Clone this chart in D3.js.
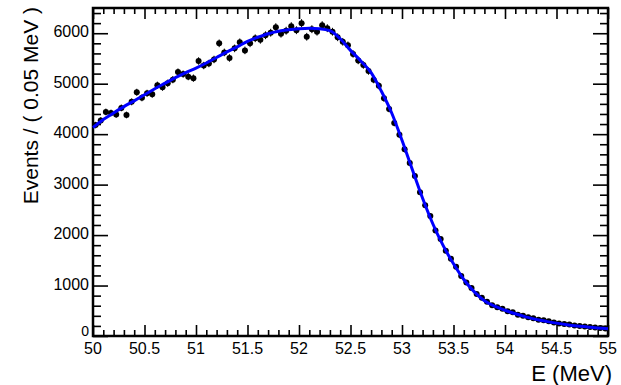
<!DOCTYPE html>
<html>
<head>
<meta charset="utf-8">
<script src="https://cdn.jsdelivr.net/npm/d3@7"></script>
<style>
  html, body { margin: 0; padding: 0; background: #fff; }
  svg { display: block; font-family: "Liberation Sans", Arial, Helvetica, sans-serif; }
</style>
</head>
<body>
<svg id="chart" width="621" height="385"></svg>
<script>
// Binned energy spectrum: bin centres (MeV) and event counts per 0.05 MeV
const binCenters = [
  50.025, 50.075, 50.125, 50.175, 50.225, 50.275, 50.325, 50.375, 50.425, 50.475,
  50.525, 50.575, 50.625, 50.675, 50.725, 50.775, 50.825, 50.875, 50.925, 50.975,
  51.025, 51.075, 51.125, 51.175, 51.225, 51.275, 51.325, 51.375, 51.425, 51.475,
  51.525, 51.575, 51.625, 51.675, 51.725, 51.775, 51.825, 51.875, 51.925, 51.975,
  52.025, 52.075, 52.125, 52.175, 52.225, 52.275, 52.325, 52.375, 52.425, 52.475,
  52.525, 52.575, 52.625, 52.675, 52.725, 52.775, 52.825, 52.875, 52.925, 52.975,
  53.025, 53.075, 53.125, 53.175, 53.225, 53.275, 53.325, 53.375, 53.425, 53.475,
  53.525, 53.575, 53.625, 53.675, 53.725, 53.775, 53.825, 53.875, 53.925, 53.975,
  54.025, 54.075, 54.125, 54.175, 54.225, 54.275, 54.325, 54.375, 54.425, 54.475,
  54.525, 54.575, 54.625, 54.675, 54.725, 54.775, 54.825, 54.875, 54.925, 54.975
];
const binCounts = [
  4180, 4270, 4440, 4420, 4390, 4520, 4380, 4640, 4830, 4720,
  4810, 4790, 4970, 4930, 5010, 5080, 5230, 5190, 5140, 5110,
  5450, 5360, 5400, 5480, 5800, 5620, 5510, 5700, 5820, 5660,
  5800, 5900, 5870, 5960, 6010, 6120, 5990, 6050, 6140, 6060,
  6200, 5930, 6080, 6030, 6160, 6100, 6030, 5920, 5830, 5760,
  5590, 5460, 5370, 5250, 5080, 4960, 4710, 4500, 4220, 3990,
  3700, 3430, 3170, 2850, 2590, 2380, 2090, 1920, 1690, 1530,
  1370, 1190, 1060, 950, 830, 760, 680, 610, 570, 540,
  490, 470, 420, 400, 370, 350, 320, 310, 290, 270,
  250, 240, 230, 210, 200, 190, 180, 170, 160, 150
];

// Fitted model evaluated on a 0.1 MeV grid
const fitE = [
  50.0, 50.1, 50.2, 50.3, 50.4, 50.5, 50.6, 50.7, 50.8, 50.9,
  51.0, 51.1, 51.2, 51.3, 51.4, 51.5, 51.6, 51.7, 51.8, 51.9,
  52.0, 52.1, 52.2, 52.3, 52.4, 52.5, 52.6, 52.7, 52.8, 52.9,
  53.0, 53.1, 53.2, 53.3, 53.4, 53.5, 53.6, 53.7, 53.8, 53.9,
  54.0, 54.1, 54.2, 54.3, 54.4, 54.5, 54.6, 54.7, 54.8, 54.9, 55.0
];
const fitValues = [
  4130, 4290, 4420, 4545, 4660, 4780, 4900, 5010, 5120, 5220,
  5310, 5410, 5520, 5630, 5730, 5840, 5920, 5990, 6040, 6070,
  6090, 6100, 6090, 6050, 5890, 5660, 5450, 5220, 4850, 4420,
  3880, 3300, 2730, 2220, 1790, 1430, 1120, 880, 700, 590,
  510, 440, 380, 330, 290, 255, 225, 200, 180, 160, 145
];

const xMajorTicks = [50, 50.5, 51, 51.5, 52, 52.5, 53, 53.5, 54, 54.5, 55];
const xTickLabels = ["50", "50.5", "51", "51.5", "52", "52.5", "53", "53.5", "54", "54.5", "55"];
const yMajorTicks = [0, 1000, 2000, 3000, 4000, 5000, 6000];
const yTickLabels = ["0", "1000", "2000", "3000", "4000", "5000", "6000"];
const xTitle = "E (MeV)";
const yTitle = "Events / ( 0.05 MeV )";

const frame = { left: 93, right: 608, top: 8, bottom: 336 };
const svg = d3.select("#chart");

const x = d3.scaleLinear().domain([50, 55]).range([frame.left, frame.right]);
const y = d3.scaleLinear().domain([0, 6500]).range([frame.bottom, frame.top]);

const xMinor = d3.range(0, 51).map(i => 50 + i * 0.1).filter(v => !xMajorTicks.some(t => Math.abs(t - v) < 1e-6));
const yMinor = d3.range(0, 33).map(i => i * 200).filter(v => v % 1000 !== 0);

// Axes with inward ticks on all four sides
const xMajorLen = 11, xMinorLen = 6, yMajorLen = 15, yMinorLen = 8;

function drawAxis(gen, transform, major, minor, majorLen, minorLen) {
  const g = svg.append("g").attr("transform", transform);
  g.call(gen.tickValues(minor).tickSize(minorLen).tickFormat(""));
  const g2 = svg.append("g").attr("transform", transform);
  g2.call(gen.tickValues(major).tickSize(majorLen).tickFormat(""));
  [g, g2].forEach(a => {
    a.select(".domain").remove();
    a.selectAll("line").attr("stroke", "#000").attr("stroke-width", 1.6);
  });
}
drawAxis(d3.axisTop(x), `translate(0,${frame.bottom})`, xMajorTicks, xMinor, xMajorLen, xMinorLen);
drawAxis(d3.axisBottom(x), `translate(0,${frame.top})`, xMajorTicks, xMinor, xMajorLen, xMinorLen);
drawAxis(d3.axisRight(y), `translate(${frame.left},0)`, yMajorTicks, yMinor, yMajorLen, yMinorLen);
drawAxis(d3.axisLeft(y), `translate(${frame.right},0)`, yMajorTicks, yMinor, yMajorLen, yMinorLen);

// Frame
svg.append("rect")
  .attr("x", frame.left).attr("y", frame.top)
  .attr("width", frame.right - frame.left).attr("height", frame.bottom - frame.top)
  .attr("fill", "none").attr("stroke", "#000").attr("stroke-width", 2.5);

// Tick labels
svg.append("g").selectAll("text").data(xMajorTicks).join("text")
  .attr("x", d => x(d)).attr("y", 354)
  .attr("text-anchor", "middle").attr("font-size", 16).attr("fill", "#000")
  .text((d, i) => xTickLabels[i]);
svg.append("g").selectAll("text").data(yMajorTicks).join("text")
  .attr("x", 89).attr("y", d => d === 0 ? y(d) : y(d) + 4)
  .attr("text-anchor", "end").attr("font-size", d => d === 0 ? 14 : 16).attr("fill", "#000")
  .text((d, i) => yTickLabels[i]);

// Axis titles
svg.append("text").attr("x", 612).attr("y", 381)
  .attr("text-anchor", "end").attr("font-size", 22).attr("fill", "#000").text(xTitle);
svg.append("text").attr("transform", "translate(38,7) rotate(-90)")
  .attr("text-anchor", "end").attr("font-size", 21).attr("fill", "#000").text(yTitle);

// Data points with Poisson error bars
const pts = binCenters.map((e, i) => ({ e, n: binCounts[i] }));
const gp = svg.append("g");
gp.selectAll("line.ey").data(pts).join("line").attr("class", "ey")
  .attr("x1", d => x(d.e)).attr("x2", d => x(d.e))
  .attr("y1", d => y(d.n - Math.sqrt(d.n))).attr("y2", d => y(d.n + Math.sqrt(d.n)))
  .attr("stroke", "#000").attr("stroke-width", 1);
gp.selectAll("line.ex").data(pts).join("line").attr("class", "ex")
  .attr("x1", d => x(d.e - 0.025)).attr("x2", d => x(d.e + 0.025))
  .attr("y1", d => y(d.n)).attr("y2", d => y(d.n))
  .attr("stroke", "#000").attr("stroke-width", 1);
gp.selectAll("circle").data(pts).join("circle")
  .attr("cx", d => x(d.e)).attr("cy", d => y(d.n)).attr("r", 3)
  .attr("fill", "#000");

// Fit curve
const fitPts = fitE.map((e, i) => [e, fitValues[i]]);
svg.append("path").datum(fitPts)
  .attr("d", d3.line().x(d => x(d[0])).y(d => y(d[1])).curve(d3.curveMonotoneX))
  .attr("fill", "none").attr("stroke", "#0000ff").attr("stroke-width", 3);
</script>
</body>
</html>
